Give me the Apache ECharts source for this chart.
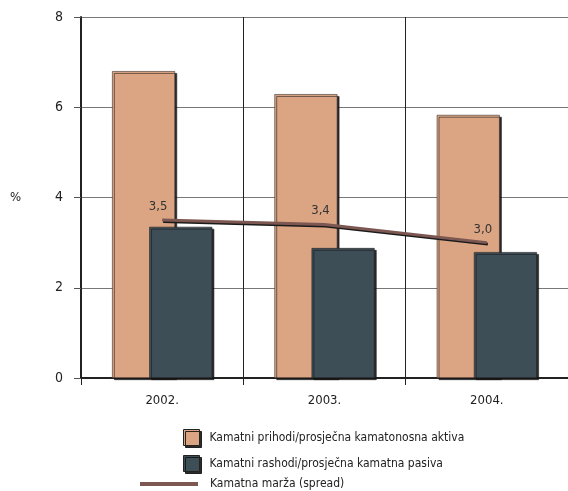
<!DOCTYPE html>
<html><head><meta charset="utf-8">
<script src="https://cdn.jsdelivr.net/npm/echarts@6/dist/echarts.min.js"></script>
<style>html,body{margin:0;padding:0;background:#fff}#c{width:568px;height:491px}</style>
</head><body><div id="c"></div>
<script>
var categories = ['2002.', '2003.', '2004.'];
var aktivaValues = [6.8, 6.29, 5.83];
var pasivaValues = [3.35, 2.88, 2.79];
var spreadValues = [3.5, 3.4, 3.0];
var yTicks = [0, 2, 4, 6, 8];
var seriesNames = ['Kamatni prihodi/prosječna kamatonosna aktiva', 'Kamatni rashodi/prosječna kamatna pasiva', 'Kamatna marža (spread)'];

var FONT = '"DejaVu Sans Condensed", "Liberation Sans Narrow", sans-serif';
var chart = echarts.init(document.getElementById('c'), null, {renderer: 'canvas'});
chart.setOption({
  animation: false,
  backgroundColor: '#fff',
  textStyle: {fontFamily: FONT},
  grid: {left: 81, top: 17, bottom: 113, width: 491},
  legend: [{
    data: [{name: seriesNames[0], icon: 'rect'}, {name: seriesNames[1], icon: 'rect'}],
    orient: 'vertical', left: 183, top: 429, itemGap: 9, padding: 0,
    itemWidth: 16, itemHeight: 16,
    itemStyle: {borderColor: '#222', borderWidth: 1, shadowColor: 'rgba(20,20,20,0.9)', shadowOffsetX: 2, shadowOffsetY: 2, shadowBlur: 0},
    textStyle: {fontFamily: FONT, fontSize: 12, color: '#222', padding: [0, 0, 0, 5]}
  }, {
    data: [{name: seriesNames[2], icon: 'rect'}],
    orient: 'vertical', left: 140, top: 478, padding: 0,
    itemWidth: 58, itemHeight: 4,
    textStyle: {fontFamily: FONT, fontSize: 12, color: '#222', padding: [0, 0, 0, 7]}
  }],
  xAxis: {
    type: 'category', data: categories, boundaryGap: true,
    axisLine: {lineStyle: {color: '#222', width: 2}},
    axisTick: {show: true, length: 7, lineStyle: {color: '#222', width: 1}},
    axisLabel: {fontFamily: FONT, fontSize: 13, color: '#222', margin: 16},
    splitLine: {show: true, lineStyle: {color: '#222', width: 1}}
  },
  yAxis: {
    type: 'value', min: 0, max: 8, interval: 2,
    name: '%', nameLocation: 'middle', nameGap: 60, nameRotate: 0,
    nameTextStyle: {fontFamily: FONT, fontSize: 13, color: '#222'},
    axisLine: {show: true, lineStyle: {color: '#222', width: 2}},
    axisTick: {show: true, length: 7, lineStyle: {color: '#555', width: 1}},
    axisLabel: {fontFamily: FONT, fontSize: 14, color: '#222', margin: 18,
      formatter: function (v) { return yTicks.indexOf(v) >= 0 ? String(v) : ''; }},
    splitLine: {show: true, lineStyle: {color: '#777', width: 1.2}}
  },
  series: [{
    name: seriesNames[0], type: 'bar', data: aktivaValues,
    barWidth: 63, barGap: '-41%',
    itemStyle: {color: '#dba584', borderColor: '#3a2f2b', borderWidth: 0.6,
      shadowColor: 'rgba(20,20,20,0.9)', shadowOffsetX: 2, shadowOffsetY: 2, shadowBlur: 0}
  }, {
    name: seriesNames[1], type: 'bar', data: pasivaValues,
    barWidth: 63, barGap: '-41%',
    itemStyle: {color: '#3e4e57', borderColor: '#222', borderWidth: 0.6,
      shadowColor: 'rgba(20,20,20,0.9)', shadowOffsetX: 2, shadowOffsetY: 2, shadowBlur: 0}
  }, {
    name: seriesNames[2], type: 'line', data: spreadValues, z: 5,
    symbol: 'circle', symbolSize: 0, showSymbol: true,
    itemStyle: {color: '#7d5751'},
    lineStyle: {color: '#7d5751', width: 3, shadowColor: '#1a1a1a', shadowOffsetX: 1, shadowOffsetY: 1.5, shadowBlur: 0},
    label: {show: true, position: 'top', offset: [-4, -2], fontFamily: FONT, fontSize: 13, color: '#333',
      formatter: function (p) { return p.value.toFixed(1).replace('.', ','); }}
  }]
});
</script></body></html>
